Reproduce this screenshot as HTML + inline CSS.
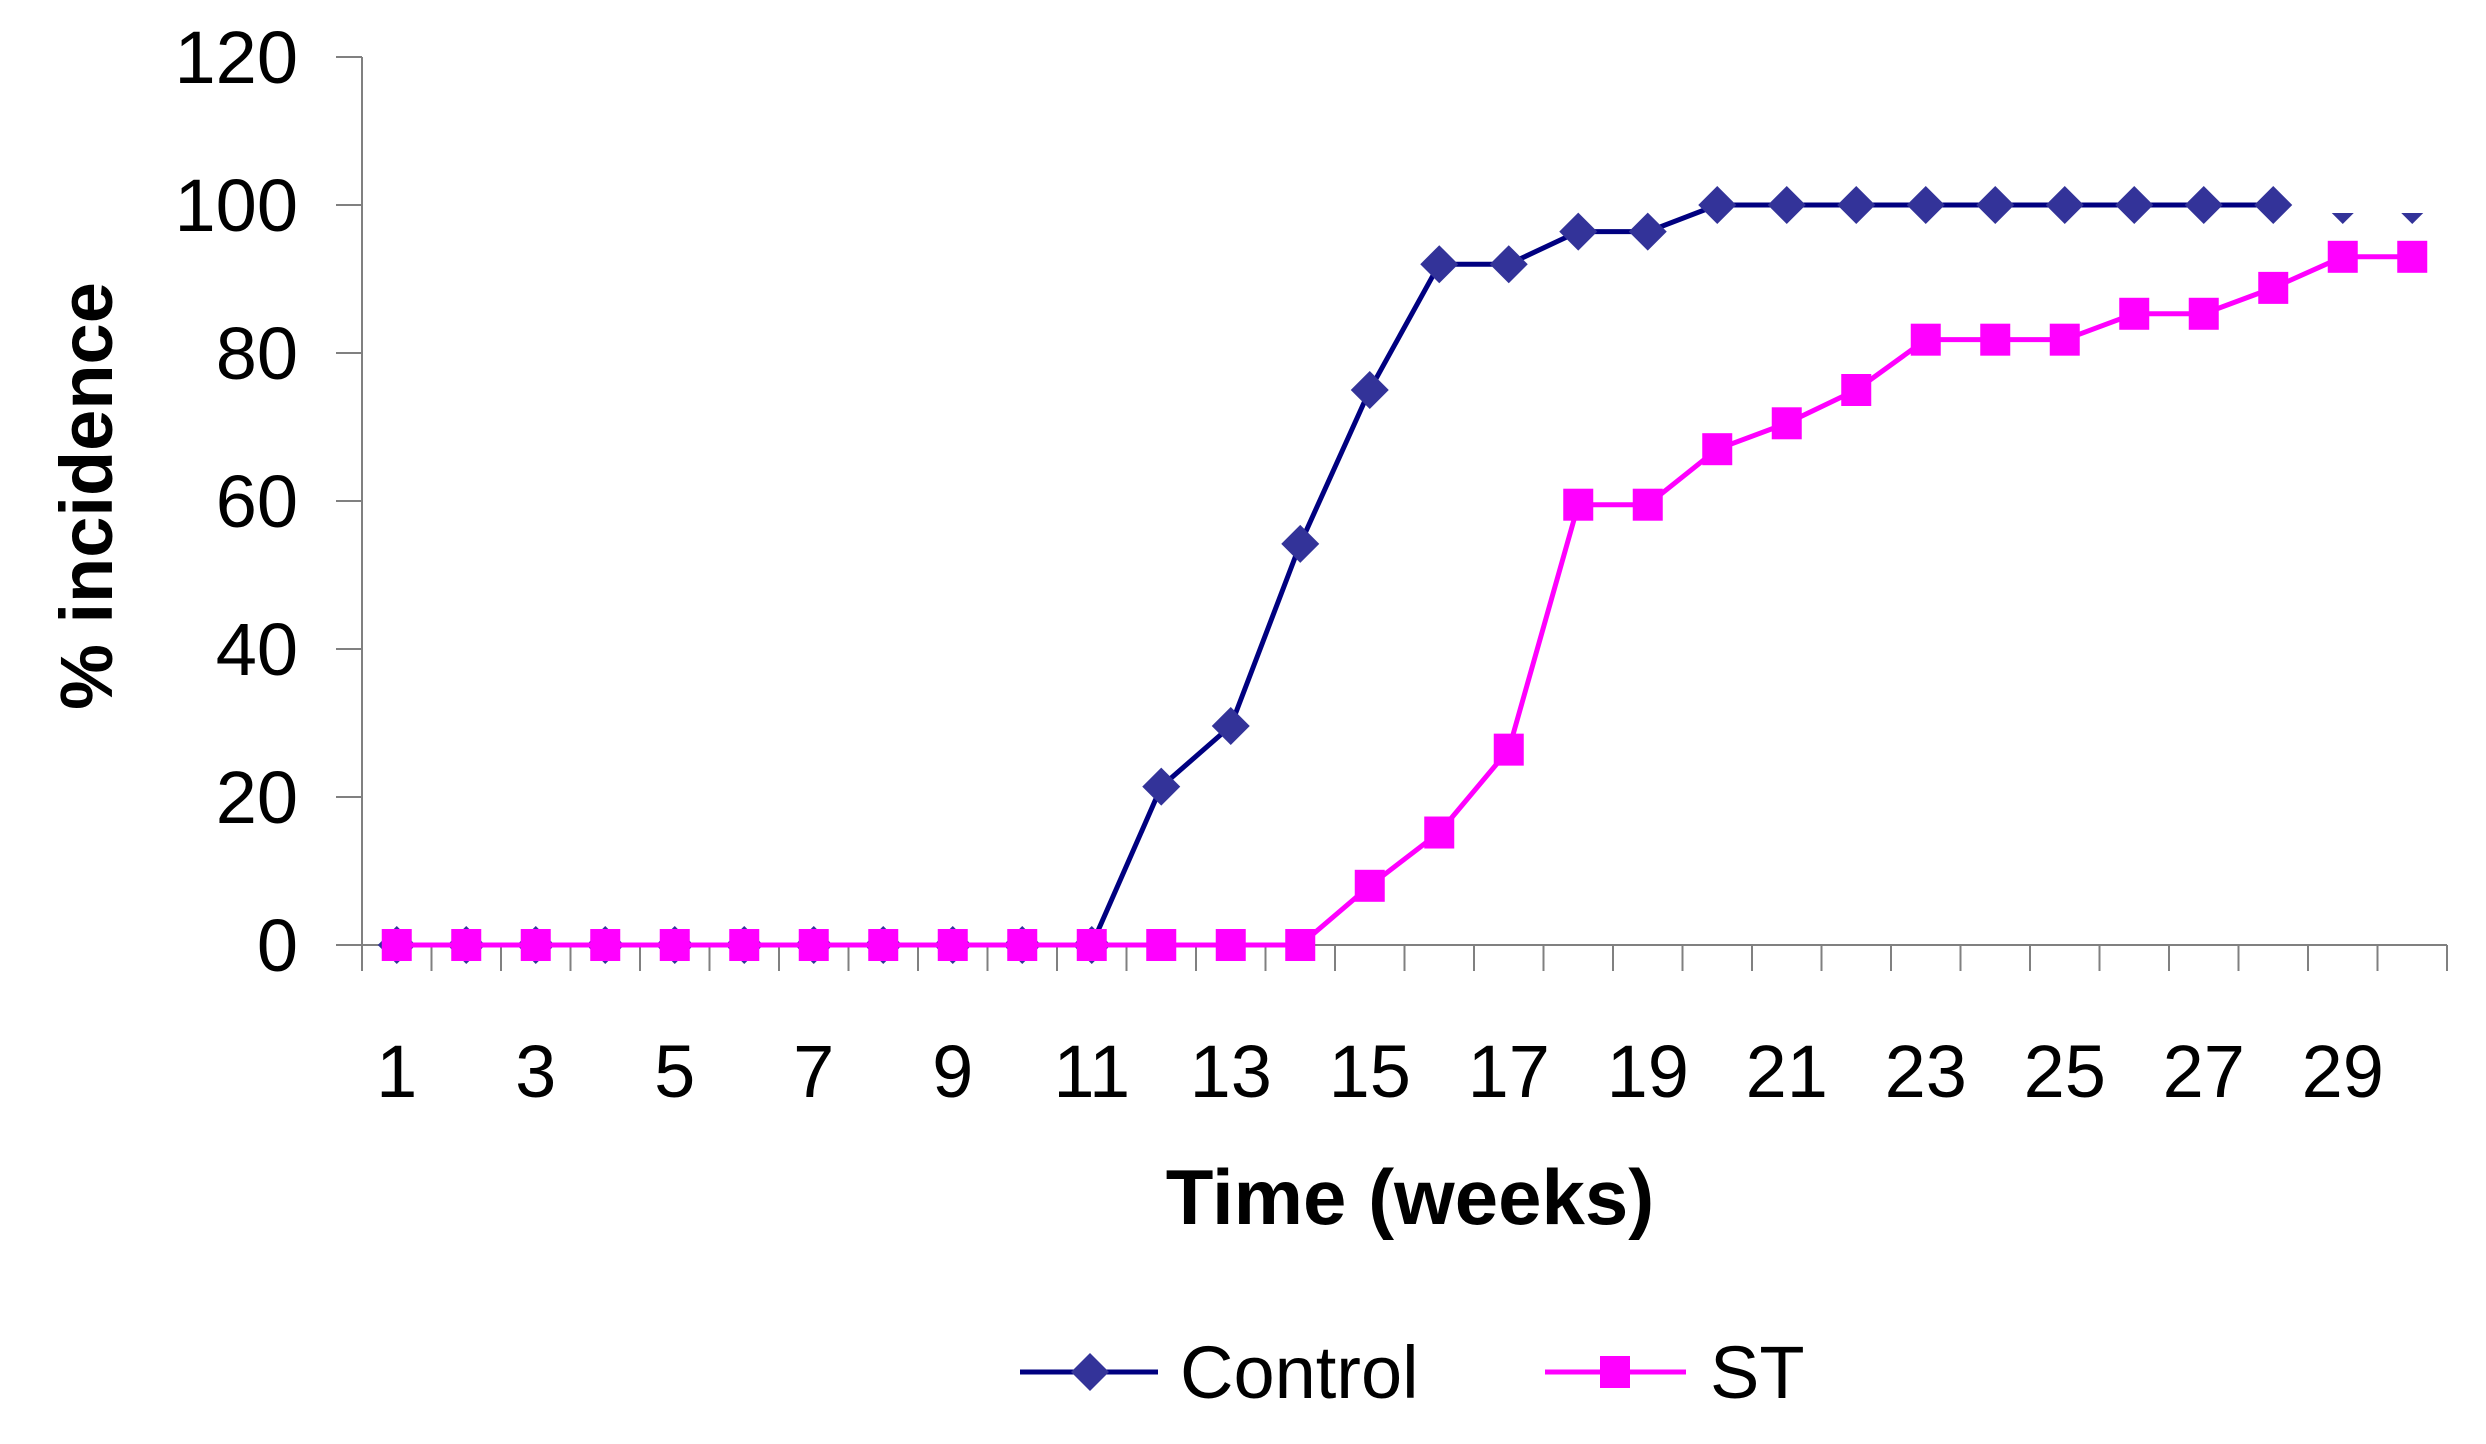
<!DOCTYPE html>
<html><head><meta charset="utf-8"><style>
html,body{margin:0;padding:0;background:#fff;}
svg{display:block;font-family:"Liberation Sans",Arial,sans-serif;}
</style></head><body>
<svg id="chart" width="2486" height="1444" viewBox="0 0 2486 1444" xmlns="http://www.w3.org/2000/svg">
<defs><clipPath id="clipTop"><rect x="0" y="213" width="2486" height="1300"/></clipPath></defs>
<g id="axes"></g><g id="series"></g>
<text transform="translate(112,496) rotate(-90)" text-anchor="middle" font-size="74" font-weight="bold" fill="#000">% incidence</text>
<text x="1410" y="1224" text-anchor="middle" font-size="78" font-weight="bold" fill="#000">Time (weeks)</text>
<g>
 <g>
  <line x1="1020" y1="1372" x2="1158" y2="1372" stroke="#000080" stroke-width="5"/>
  <polygon points="1090,1353 1109,1372 1090,1391 1071,1372" fill="#333399"/>
  <text x="1180" y="1398" font-size="74" fill="#000">Control</text>
 </g>
 <g>
  <line x1="1545" y1="1372" x2="1686" y2="1372" stroke="#FF00FF" stroke-width="5"/>
  <rect x="1600" y="1356" width="30" height="32" fill="#FF00FF"/>
  <text x="1710" y="1398" font-size="74" fill="#000">ST</text>
 </g>
</g>
</svg>
<script>
const weeks=[1,2,3,4,5,6,7,8,9,10,11,12,13,14,15,16,17,18,19,20,21,22,23,24,25,26,27,28,29,30];
const controlValues=[0,0,0,0,0,0,0,0,0,0,0,21.4,29.6,54.2,75,92,92,96.4,96.4,100,100,100,100,100,100,100,100,100,100,100];
const stValues=[0,0,0,0,0,0,0,0,0,0,0,0,0,0,8,15.2,26.4,59.5,59.5,67,70.5,75,81.8,81.8,81.8,85.3,85.3,88.8,93,93];
const yTicks=[0,20,40,60,80,100,120];
const xTickLabels=[1,3,5,7,9,11,13,15,17,19,21,23,25,27,29];
const NS="http://www.w3.org/2000/svg";
const X0=362,X1=2447,Y0=945,YT=57,YMAX=120;
const cw=(X1-X0)/weeks.length;
const xs=i=>X0+cw*(i+0.5);
const ys=v=>Y0-(Y0-YT)*v/YMAX;
function mk(tag,attrs,parent){const e=document.createElementNS(NS,tag);for(const k in attrs)e.setAttribute(k,attrs[k]);parent.appendChild(e);return e;}
const axes=document.getElementById('axes'),ser=document.getElementById('series');
const ya=mk('line',{x1:X0,y1:YT,x2:X0,y2:971,stroke:'#808080','stroke-width':2},axes);


const xa=mk('line',{x1:X0,y1:Y0,x2:X1,y2:Y0,stroke:'#808080','stroke-width':2},axes);


yTicks.forEach(v=>{
 mk('line',{x1:336,y1:ys(v),x2:X0,y2:ys(v),stroke:'#808080','stroke-width':2},axes);
 const t=mk('text',{x:298,y:ys(v)+26,'text-anchor':'end','font-size':74,fill:'#000'},axes);
 t.textContent=v;
 
 
});
for(let i=0;i<=weeks.length;i++){mk('line',{x1:X0+cw*i,y1:Y0,x2:X0+cw*i,y2:971,stroke:'#808080','stroke-width':2},axes);}
xTickLabels.forEach(w=>{
 const t=mk('text',{x:xs(weeks.indexOf(w)),y:1097,'text-anchor':'middle','font-size':74,fill:'#000'},axes);
 t.textContent=w;
 
 
});
let pc=controlValues.slice(0,28).map((v,i)=>xs(i)+','+ys(v)).join(' ');
const cl=mk('polyline',{points:pc,fill:'none',stroke:'#000080','stroke-width':5},ser);


controlValues.forEach((v,i)=>{
 const x=xs(i),y=ys(v);
 const p=mk('polygon',{points:`${x},${y-19} ${x+19},${y} ${x},${y+19} ${x-19},${y}`,fill:'#333399'},ser);
 if(i>=28)p.setAttribute('clip-path','url(#clipTop)');
 
 
});
let ps=stValues.map((v,i)=>xs(i)+','+ys(v)).join(' ');
const sl=mk('polyline',{points:ps,fill:'none',stroke:'#FF00FF','stroke-width':5},ser);


stValues.forEach((v,i)=>{
 const r=mk('rect',{x:xs(i)-15,y:ys(v)-16,width:30,height:32,fill:'#FF00FF'},ser);
 
 
});
</script>
</body></html>
